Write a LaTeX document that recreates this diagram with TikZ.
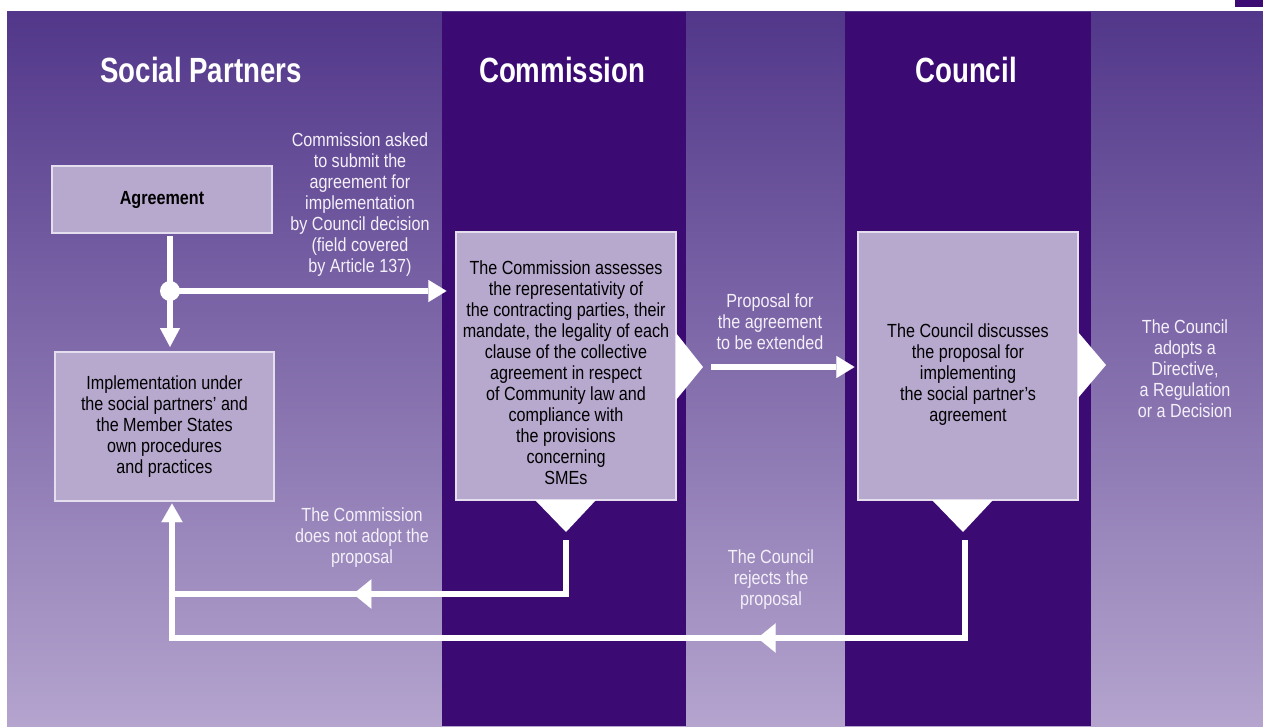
\documentclass[tikz,border=0pt]{standalone}
\usepackage{fontspec}
\setmainfont{Liberation Sans}[FakeStretch=0.85]
\newfontfamily\hdfont{Liberation Sans}[FakeStretch=0.79]
\usetikzlibrary{arrows.meta,decorations.markings,calc}
\definecolor{bgtop}{RGB}{82,55,138}
\definecolor{bgbot}{RGB}{180,164,206}
\definecolor{darkcol}{RGB}{60,10,115}
\definecolor{boxfill}{RGB}{183,168,206}
\definecolor{boxline}{RGB}{228,222,238}
\definecolor{ltxt}{RGB}{244,240,250}
\begin{document}
\begin{tikzpicture}[x=0.75pt,y=-0.75pt,
  box/.style={draw=boxline, line width=0.8pt, fill=boxfill, inner sep=0pt, align=center, text=black, font=\fontsize{14.25}{15.75}\selectfont},
  txt/.style={align=center, inner sep=0pt, font=\fontsize{14.25}{15.75}\selectfont},
  wtxt/.style={txt, text=ltxt},
  btxt/.style={txt, text=black},
  hd/.style={text=white, inner sep=0pt, font=\hdfont\bfseries\fontsize{26.25}{30}\selectfont},
  flow/.style={draw=white, line width=4.5pt},
  tipdown/.style={-{Triangle[length=14pt,width=15pt,line width=0.01pt]}},
  tipright/.style={-{Triangle[length=13.5pt,width=16.5pt,line width=0.01pt]}},
  tipup/.style={-{Triangle[length=14pt,width=16pt,line width=0.01pt]}},
  ret/.style={flow, postaction={decorate}, decoration={markings, mark=at position #1 with {\arrow[white]{Triangle[length=13.5pt,width=22pt,line width=0.01pt]}}}},
  tri/.style={fill=white},
  dot/.style={circle, fill=white, inner sep=0pt, minimum size=15pt}
]
\useasboundingbox (0,0) rectangle (1263,727);
% background
\fill[white] (0,0) rectangle (1263,727);
\shade[top color=bgtop, bottom color=bgbot] (7,12) rectangle (1263,726);
\fill[darkcol] (442,12) rectangle (686,726);
\fill[darkcol] (845,12) rectangle (1091,726);
\fill[darkcol] (1235,0) rectangle (1263,7);

% headers
\node[hd, anchor=base] (h1) at (201,83) {Social Partners};
\node[hd, anchor=base] (h2) at (562,83) {Commission};
\node[hd, anchor=base] (h3) at (966,83) {Council};

% boxes
\node[box, minimum width=165pt, minimum height=50.25pt, font=\fontsize{14.25}{15.75}\selectfont\bfseries] (agree) at (162,199.5) {Agreement};
\node[box, minimum width=164.25pt, minimum height=111.75pt] (impl) at (164.5,426.5) {Implementation under\\the social partners’ and\\the Member States\\own procedures\\and practices};
\node[box, minimum width=165pt, minimum height=201pt] (comm) at (566,366) {};
\node[btxt] (commtxt) at (566,373) {The Commission assesses\\the representativity of\\the contracting parties, their\\mandate, the legality of each\\clause of the collective\\agreement in respect\\of Community law and\\compliance with\\the provisions\\concerning\\SMEs};
\node[box, minimum width=165pt, minimum height=201pt] (counc) at (968,366) {};
\node[btxt] (counctxt) at (968,375) {The Council discusses\\the proposal for\\implementing\\the social partner’s\\agreement};

% triangles
\fill[tri] (676,333) -- (703,367) -- (676,400) -- cycle;
\fill[tri] (1078,332) -- (1106,365) -- (1078,398) -- cycle;
\fill[tri] (535,500) -- (596,500) -- (566,532) -- cycle;
\fill[tri] (932,500) -- (993,500) -- (963,532) -- cycle;

% connectors
\coordinate (vx) at (170,0);
\draw[flow, tipdown, shorten <=2pt, shorten >=3.5pt] (agree.south -| vx) -- (impl.north -| vx);
\node[dot] (jn) at (170,291) {};
\draw[flow, tipright, shorten >=6.75pt] (jn.center) -- (comm.west |- jn);
\coordinate (ctip) at (703,367);
\draw[flow, tipright, shorten <=6pt, shorten >=2.25pt] (ctip) -- (counc.west |- ctip);
\coordinate (cr) at (566,540);
\coordinate (cj) at (172,594);
\draw[ret=200pt] (cr) |- (cj);
\coordinate (kr) at (965,540);
\coordinate (bl) at (172,638);
\draw[ret=229pt, tipup, shorten >=1.5pt] (kr) |- (bl) -- (impl.south -| bl);

% labels
\node[wtxt] (asked) at (360,205) {Commission asked\\to submit the\\agreement for\\implementation\\by Council decision\\(field covered\\by Article 137)};
\node[wtxt] (prop) at (770,322) {Proposal for\\the agreement\\to be extended};
\node[wtxt] (adopt) at (1185,369) {The Council\\adopts a\\Directive,\\a Regulation\\or a Decision};
\node[wtxt] (nadopt) at (362,538) {The Commission\\does not adopt the\\proposal};
\node[wtxt] (reject) at (771,580) {The Council\\rejects the\\proposal};
\end{tikzpicture}
\end{document}
